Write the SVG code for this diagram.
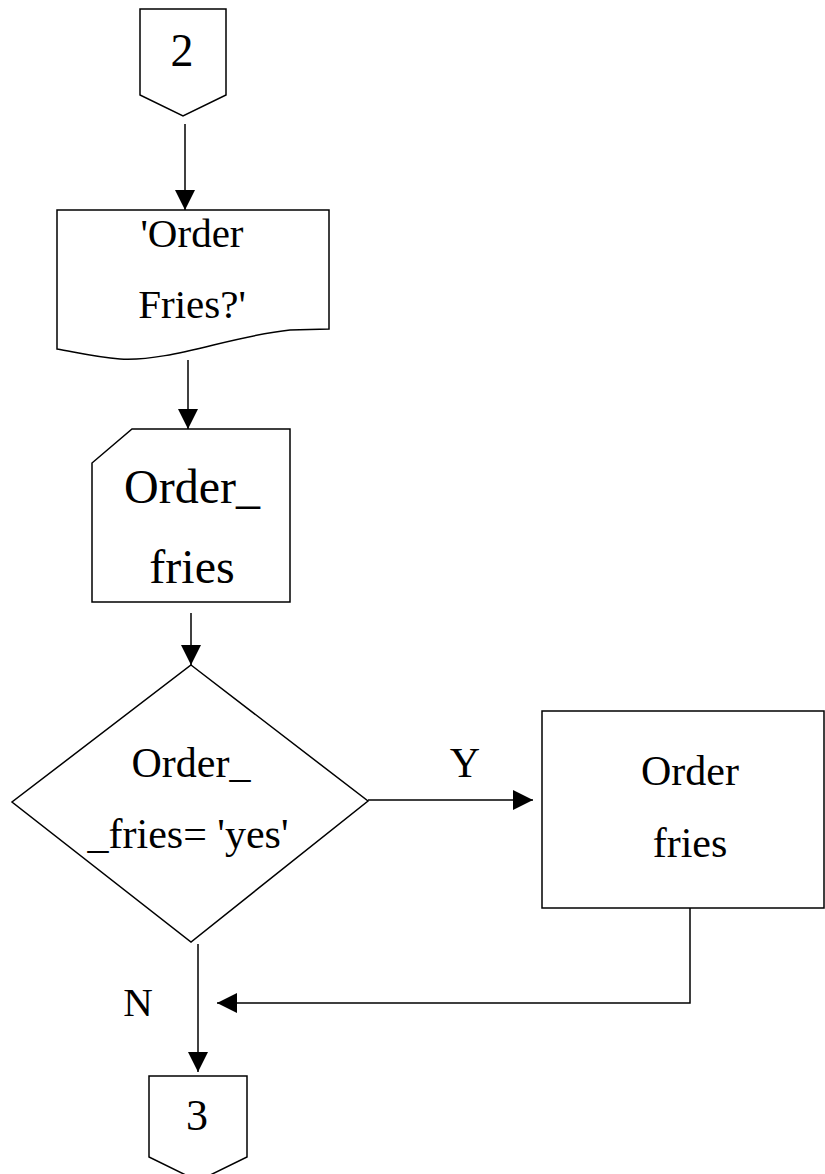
<svg xmlns="http://www.w3.org/2000/svg" width="825" height="1174" viewBox="0 0 825 1174">
<style>
.s{fill:#fff;stroke:#000;stroke-width:1.5}
.c{fill:none;stroke:#000;stroke-width:1.5}
.t{font-family:'Liberation Serif','Times New Roman',Tinos,'DejaVu Serif',serif;fill:#000;text-anchor:middle}
</style>
<defs>
<marker id="ah" markerUnits="userSpaceOnUse" markerWidth="22" markerHeight="22" refX="20" refY="10" orient="auto">
<path d="M0,0 L20,10 L0,20 z" fill="#000"/>
</marker>
</defs>
<rect width="825" height="1174" fill="#fff"/>
<g id="connectors">
<line class="c" x1="185" y1="124" x2="185" y2="210" marker-end="url(#ah)"/>
<line class="c" x1="188" y1="360" x2="188" y2="429" marker-end="url(#ah)"/>
<line class="c" x1="191" y1="613" x2="191" y2="665" marker-end="url(#ah)"/>
<line class="c" x1="368" y1="800" x2="533" y2="800" marker-end="url(#ah)"/>
<polyline class="c" points="690,908 690,1003 217,1003" marker-end="url(#ah)"/>
<line class="c" x1="198" y1="944" x2="198" y2="1072" marker-end="url(#ah)"/>
<text class="t" x="465" y="777" font-size="42">Y</text>
<text class="t" x="138" y="1016" font-size="41">N</text>
</g>
<g id="conn2">
<path class="s" d="M140,9 L226,9 L226,95 L183,116 L140,95 z"/>
<text class="t" x="182" y="66" font-size="46">2</text>
</g>
<g id="output">
<path class="s" d="M57,210 L329,210 L329,329 L290,330 C230,336 170,362 120,359 C95,357 75,352 57,349 z"/>
<text class="t" x="192" y="247" font-size="41">'Order</text>
<text class="t" x="192" y="318" font-size="41">Fries?'</text>
</g>
<g id="input">
<path class="s" d="M132,429 L290,429 L290,602 L92,602 L92,463 z"/>
<text class="t" x="192" y="503" font-size="48">Order_</text>
<text class="t" x="192" y="583" font-size="48">fries</text>
</g>
<g id="decision">
<path class="s" d="M191,665 L368,801 L191,942 L12,802 z"/>
<text class="t" x="191" y="777" font-size="42">Order_</text>
<text class="t" x="188" y="848" font-size="42">_fries= 'yes'</text>
</g>
<g id="process">
<rect class="s" x="542" y="711" width="282" height="197"/>
<text class="t" x="690" y="785" font-size="42">Order</text>
<text class="t" x="690" y="857" font-size="42">fries</text>
</g>
<g id="conn3">
<path class="s" d="M149,1076 L247,1076 L247,1157 L198,1181 L149,1157 z"/>
<text class="t" x="197" y="1130" font-size="44">3</text>
</g>
</svg>
